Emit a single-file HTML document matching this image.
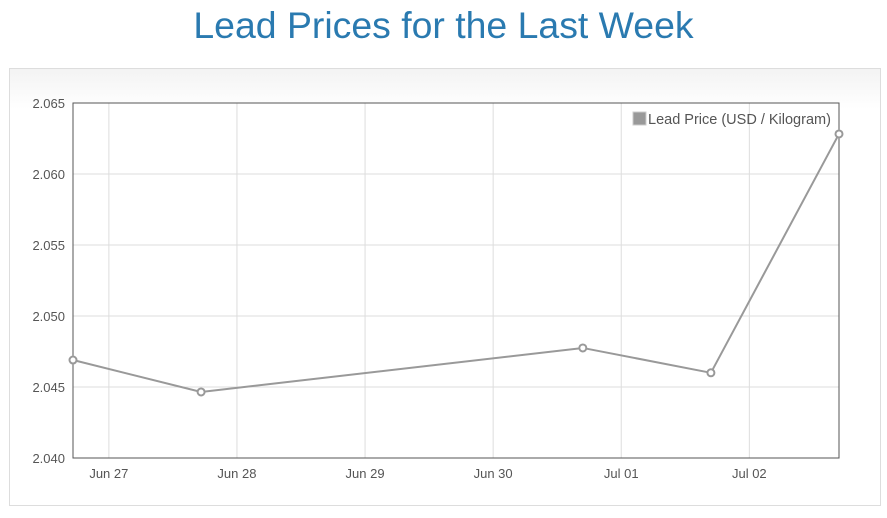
<!DOCTYPE html>
<html><head><meta charset="utf-8"><style>
body{margin:0;width:887px;height:518px;background:#fff;font-family:"Liberation Sans",sans-serif;overflow:hidden}
h1{margin:0;position:absolute;top:4px;left:0;width:887px;text-align:center;font-weight:normal;font-size:37.4px;color:#2a7ab0}
#box{position:absolute;left:9px;top:68px;width:870px;height:436px;border:1px solid #ddd;background:linear-gradient(#f3f3f3,#fff 40px)}
svg{position:absolute;left:0;top:0}
</style></head><body>
<h1>Lead Prices for the Last Week</h1>
<div id="box"></div>
<svg id="c" width="887" height="518"></svg>
<script>
const dayLabels=["Jun 27","Jun 28","Jun 29","Jun 30","Jul 01","Jul 02"];
const pointDays=[-0.28,0.72,3.70,4.70,5.70];
const prices=[2.0469,2.04465,2.04775,2.0460,2.06282];
const yTicks=[2.040,2.045,2.050,2.055,2.060,2.065];
const L=73,R=839,T=103,B=458,d0=-0.28,d1=5.70,y0=2.040,y1=2.065;
const X=d=>L+(d-d0)/(d1-d0)*(R-L);
const Y=v=>B-(v-y0)/(y1-y0)*(B-T);
const s=document.getElementById('c'),NS='http://www.w3.org/2000/svg';
function add(t,a,txt){const e=document.createElementNS(NS,t);for(const k in a)e.setAttribute(k,a[k]);if(txt!=null)e.textContent=txt;s.appendChild(e);return e;}
let bg=add('rect',{x:L,y:T,width:R-L,height:B-T,fill:'#fff'});


yTicks.forEach(v=>{
 let g=add('line',{x1:L,x2:R,y1:Y(v),y2:Y(v),stroke:'#ddd'});
 
 
 let t=add('text',{x:L-8,y:Y(v)+5,'text-anchor':'end','font-size':13,fill:'#555'},v.toFixed(3));
 
 
});
dayLabels.forEach((lb,i)=>{
 let g=add('line',{x1:X(i),x2:X(i),y1:T,y2:B,stroke:'#ddd'});
 
 
 let t=add('text',{x:X(i),y:B+20,'text-anchor':'middle','font-size':13,fill:'#555'},lb);
 
 
});
let fr=add('rect',{x:L,y:T,width:R-L,height:B-T,fill:'none',stroke:'#555'});


let ln=add('polyline',{points:pointDays.map((d,i)=>X(d)+','+Y(prices[i])).join(' '),fill:'none',stroke:'#999','stroke-width':2});


pointDays.forEach((d,i)=>{
 let c=add('circle',{cx:X(d),cy:Y(prices[i]),r:3.5,fill:'#fff',stroke:'#999','stroke-width':2});
 
 
});
let sw=add('rect',{x:633,y:112,width:13,height:13,fill:'#999',stroke:'#ccc'});


let lt=add('text',{x:648,y:124,'font-size':14.5,fill:'#555'},'Lead Price (USD / Kilogram)');


</script>
</body></html>
